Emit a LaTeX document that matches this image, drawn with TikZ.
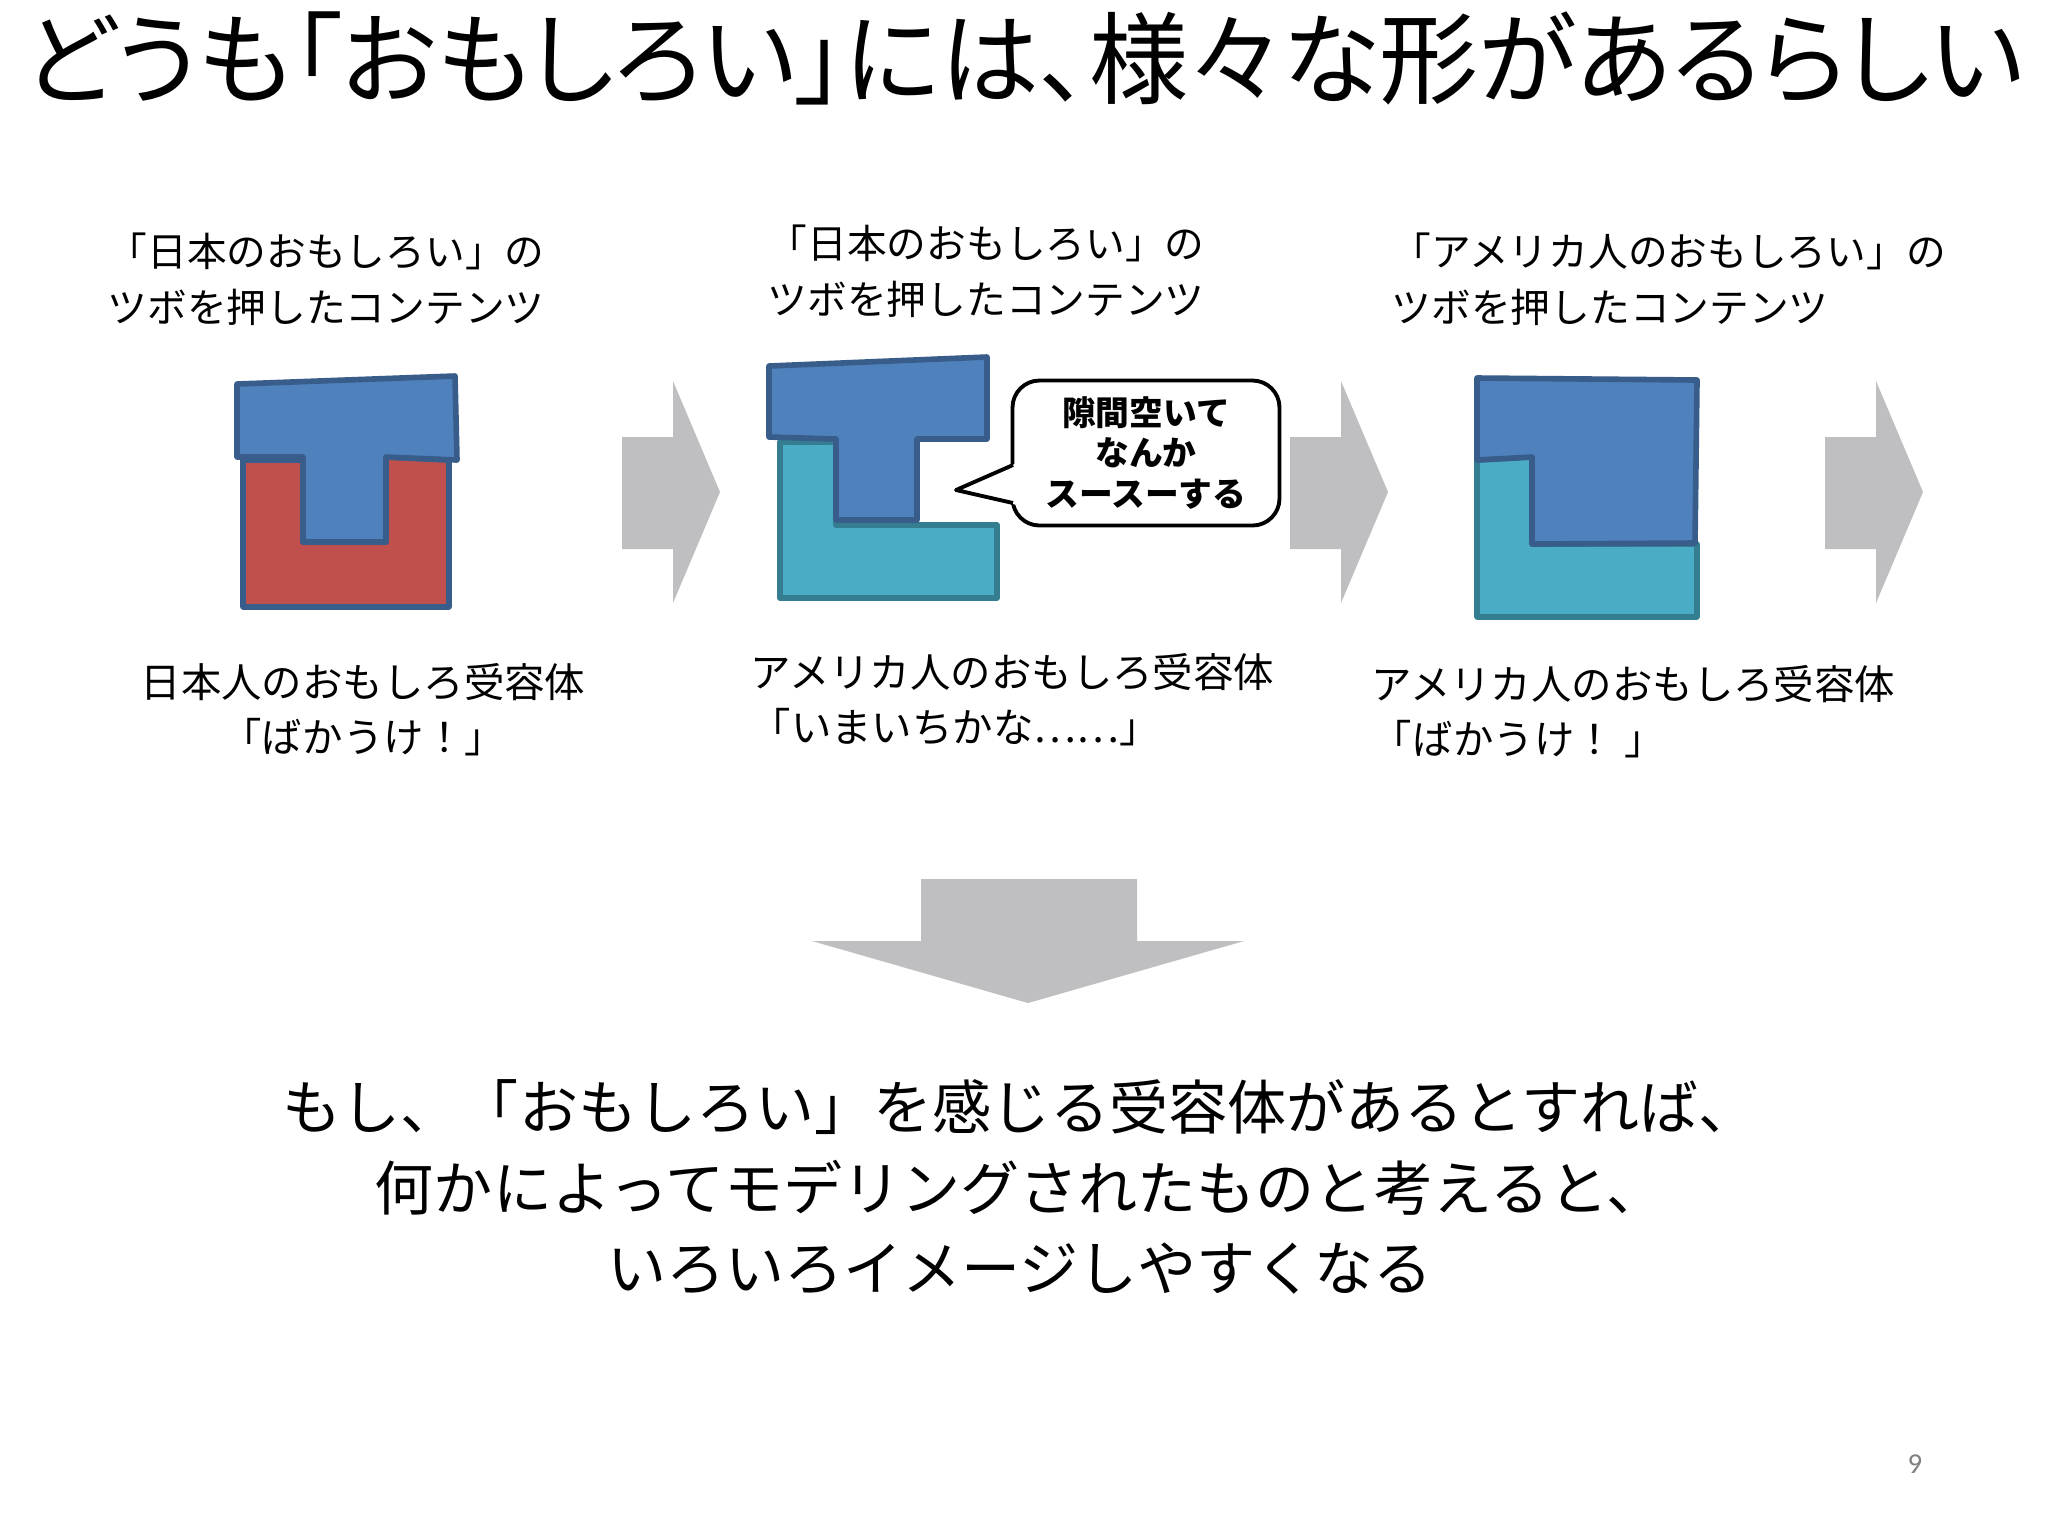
\documentclass[tikz,border=0pt]{standalone}
\usepackage{fontspec}
\setmainfont{Noto Sans CJK JP}
\newfontfamily\titlefont[FakeStretch=0.99, RawFeature=+palt]{Noto Sans CJK JP}
\newfontfamily\pagefont{Carlito}

\definecolor{tblue}{RGB}{79,129,189}
\definecolor{tedge}{RGB}{56,93,138}
\definecolor{ured}{RGB}{192,80,77}
\definecolor{lteal}{RGB}{75,172,198}
\definecolor{ledge}{RGB}{53,125,145}
\definecolor{arrowgray}{RGB}{191,190,193}

\tikzset{
  tpiece/.style={fill=tblue, draw=tedge, line width=1.6pt, line join=round},
  upiece/.style={fill=ured,  draw=tedge, line width=1.6pt, line join=round},
  lpiece/.style={fill=lteal, draw=ledge, line width=1.6pt, line join=round},
  toplabel/.style={anchor=west, align=left, inner sep=0,
                   font=\fontsize{11.3}{15.8}\selectfont},
  sensor/.style={align=center, inner sep=0,
                 font=\fontsize{11.5}{15.6}\selectfont},
  bubble/.style={draw, fill=white, line width=1.1pt, rounded corners=2.7mm,
                 minimum width=26.7mm, minimum height=14.5mm, align=center,
                 inner sep=0, font=\bfseries\fontsize{9.6}{11.4}\selectfont}
}

\begin{document}
\begin{tikzpicture}[x=0.1mm, y=-0.1mm]
\useasboundingbox (0,0) rectangle (2048,1536);
\fill[white] (0,0) rectangle (2048,1536);

\node (title) at (1024,58)
    {\titlefont\fontsize{28.5}{28.5}\selectfont どうも「おもしろい」には、様々な形があるらしい};

% contents (top)
\node[toplabel] (jpcontent1) at ( 107,279) {「日本のおもしろい」の\\ツボを押したコンテンツ};
\node[toplabel] (jpcontent2) at ( 767,271) {「日本のおもしろい」の\\ツボを押したコンテンツ};
\node[toplabel] (uscontent)  at (1391,279) {「アメリカ人のおもしろい」の\\ツボを押したコンテンツ};

% first pair
\draw[upiece] (243,460) -- (303,460) -- (303,542) -- (386,542)
           -- (386,457) -- (449,460) -- (449,607) -- (243,607) -- cycle;
\draw[tpiece] (237,384) -- (455,376) -- (457,460) -- (386,457)
           -- (386,542) -- (303,542) -- (303,457) -- (237,457) -- cycle;

% second pair
\draw[lpiece] (780,442) -- (836,442) -- (836,525) -- (997,525)
           -- (997,598) -- (780,598) -- cycle;
\draw[tpiece] (769,366) -- (987,357) -- (987,439) -- (917,439)
           -- (917,520) -- (836,520) -- (836,439) -- (769,437) -- cycle;

% speech bubble
\node[bubble] (gap) at (1146,453) {隙間空いて\\なんか\\スースーする};
\fill[white] (1017,463) -- (956,490) -- (1017,505) -- cycle;
\draw[line width=1.1pt, line join=round] (1013,465) -- (956,490) -- (1013,503);

% third pair
\draw[lpiece] (1477,460) -- (1532,457) -- (1532,544) -- (1697,544)
           -- (1697,617) -- (1477,617) -- cycle;
\draw[tpiece] (1477,378) -- (1697,380) -- (1695,543) -- (1532,544)
           -- (1532,457) -- (1477,460) -- cycle;

% gray arrows
\foreach \x in {622, 1290, 1825}
  \fill[arrowgray] (\x,437) -- (\x+51,437) -- (\x+51,381) -- (\x+98,492)
                -- (\x+51,603) -- (\x+51,549) -- (\x,549) -- cycle;

% receptors (bottom)
\node[sensor] (jpsensor) at (363,710) {日本人のおもしろ受容体\\「ばかうけ！」};
\node[sensor, anchor=west, align=left] (ussensor1) at (750,700)
    {アメリカ人のおもしろ受容体\\「いまいちかな……」};
\node[sensor, anchor=west, align=left] (ussensor2) at (1371,712)
    {アメリカ人のおもしろ受容体\\「ばかうけ！ 」};

% down arrow
\fill[arrowgray] ( 921, 879) -- (1137, 879) -- (1137, 941) -- (1244, 941)
              -- (1028,1003) -- ( 812, 941) -- ( 921, 941) -- cycle;

\node[align=center, font=\fontsize{16.8}{22.8}\selectfont] (summary) at (1020,1187)
    {もし、「おもしろい」を感じる受容体があるとすれば、\\
     何かによってモデリングされたものと考えると、\\
     いろいろイメージしやすくなる};

\node[text=gray, font=\pagefont\fontsize{8.2}{9}\selectfont] (pageno) at (1915,1464) {9};
\end{tikzpicture}
\end{document}
